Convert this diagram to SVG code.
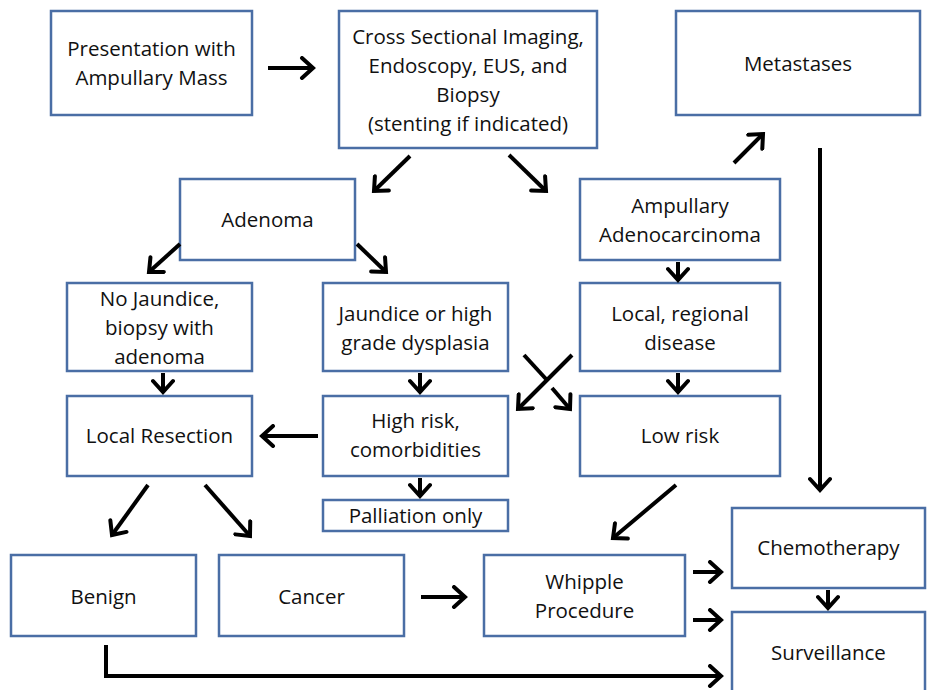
<svg xmlns="http://www.w3.org/2000/svg" width="933" height="690" viewBox="0 0 933 690">
<defs>
<style>
.box{fill:#fff;stroke:#4a6ea5;stroke-width:2.5}
text{font-family:"Open Sans","Liberation Sans",sans-serif;font-size:20.5px;fill:#111;text-anchor:middle}
.c line,.c path,.c polyline{stroke:#000;stroke-width:4;fill:none}
</style>
<marker id="ah" markerUnits="userSpaceOnUse" viewBox="-14 -12 18 24" markerWidth="18" markerHeight="24" refX="0" refY="0" orient="auto">
<path d="M-11,-10 L0,0 L-11,10" fill="none" stroke="#000" stroke-width="4" stroke-linecap="round"/>
</marker>
</defs>
<rect width="933" height="690" fill="#fff"/>
<g id="n1"><rect class="box" x="51" y="11" width="201" height="104"/><text x="151.5" y="56">Presentation with</text><text x="151.5" y="85">Ampullary Mass</text></g>
<g id="n2"><rect class="box" x="339" y="11" width="258" height="137"/><text x="468" y="44">Cross Sectional Imaging,</text><text x="468" y="73">Endoscopy, EUS, and</text><text x="468" y="102">Biopsy</text><text x="468" y="131">(stenting if indicated)</text></g>
<g id="n3"><rect class="box" x="676" y="11" width="244" height="104"/><text x="798" y="71">Metastases</text></g>
<g id="n4"><rect class="box" x="180" y="179" width="175" height="81"/><text x="267.5" y="227">Adenoma</text></g>
<g id="n5"><rect class="box" x="580" y="179" width="200" height="81"/><text x="680" y="213">Ampullary</text><text x="680" y="242">Adenocarcinoma</text></g>
<g id="n6"><rect class="box" x="67" y="283" width="185" height="88"/><text x="159.5" y="306">No Jaundice,</text><text x="159.5" y="335">biopsy with</text><text x="159.5" y="364">adenoma</text></g>
<g id="n7"><rect class="box" x="323" y="283" width="185" height="88"/><text x="415.5" y="321">Jaundice or high</text><text x="415.5" y="350">grade dysplasia</text></g>
<g id="n8"><rect class="box" x="580" y="283" width="200" height="88"/><text x="680" y="321">Local, regional</text><text x="680" y="350">disease</text></g>
<g id="n9"><rect class="box" x="67" y="396" width="185" height="80"/><text x="159.5" y="443">Local Resection</text></g>
<g id="n10"><rect class="box" x="323" y="396" width="185" height="80"/><text x="415.5" y="428">High risk,</text><text x="415.5" y="457">comorbidities</text></g>
<g id="n11"><rect class="box" x="580" y="396" width="200" height="80"/><text x="680" y="443">Low risk</text></g>
<g id="n12"><rect class="box" x="323" y="500" width="185" height="31"/><text x="415.5" y="523">Palliation only</text></g>
<g id="n13"><rect class="box" x="11" y="555" width="185" height="81"/><text x="103.5" y="604">Benign</text></g>
<g id="n14"><rect class="box" x="219" y="555" width="185" height="81"/><text x="311.5" y="604">Cancer</text></g>
<g id="n15"><rect class="box" x="484" y="555" width="201" height="81"/><text x="584.5" y="589">Whipple</text><text x="584.5" y="618">Procedure</text></g>
<g id="n16"><rect class="box" x="732" y="508" width="193" height="80"/><text x="828.5" y="555">Chemotherapy</text></g>
<g id="n17"><rect class="box" x="732" y="612" width="193" height="90"/><text x="828.5" y="660">Surveillance</text></g>
<g id="connectors" class="c">
<line x1="268" y1="68" x2="313" y2="68" marker-end="url(#ah)"/>
<line x1="410" y1="156" x2="374" y2="191" marker-end="url(#ah)"/>
<line x1="509" y1="155" x2="546" y2="191" marker-end="url(#ah)"/>
<line x1="734" y1="163" x2="763" y2="134" marker-end="url(#ah)"/>
<line x1="820" y1="148" x2="820" y2="490" marker-end="url(#ah)"/>
<line x1="180" y1="244" x2="149" y2="272" marker-end="url(#ah)"/>
<line x1="357" y1="244" x2="386" y2="272" marker-end="url(#ah)"/>
<line x1="678" y1="262" x2="678" y2="280" marker-end="url(#ah)"/>
<line x1="163" y1="373" x2="163" y2="392" marker-end="url(#ah)"/>
<line x1="420" y1="373" x2="420" y2="392" marker-end="url(#ah)"/>
<line x1="678" y1="373" x2="678" y2="392" marker-end="url(#ah)"/>
<line x1="572" y1="355" x2="518" y2="409" marker-end="url(#ah)"/>
<line x1="524" y1="355" x2="546" y2="379"/>
<line x1="552" y1="388" x2="570" y2="409" marker-end="url(#ah)"/>
<line x1="318" y1="436" x2="262" y2="436" marker-end="url(#ah)"/>
<line x1="420" y1="478" x2="420" y2="496" marker-end="url(#ah)"/>
<line x1="148" y1="485" x2="112" y2="535" marker-end="url(#ah)"/>
<line x1="205" y1="485" x2="250" y2="536" marker-end="url(#ah)"/>
<line x1="676" y1="485" x2="613" y2="538" marker-end="url(#ah)"/>
<line x1="421" y1="597" x2="465" y2="597" marker-end="url(#ah)"/>
<line x1="693" y1="572" x2="721" y2="572" marker-end="url(#ah)"/>
<line x1="693" y1="620" x2="721" y2="620" marker-end="url(#ah)"/>
<line x1="828" y1="590" x2="828" y2="608" marker-end="url(#ah)"/>
<polyline points="106,645 106,676 721,676" marker-end="url(#ah)"/>
</g>
</svg>
